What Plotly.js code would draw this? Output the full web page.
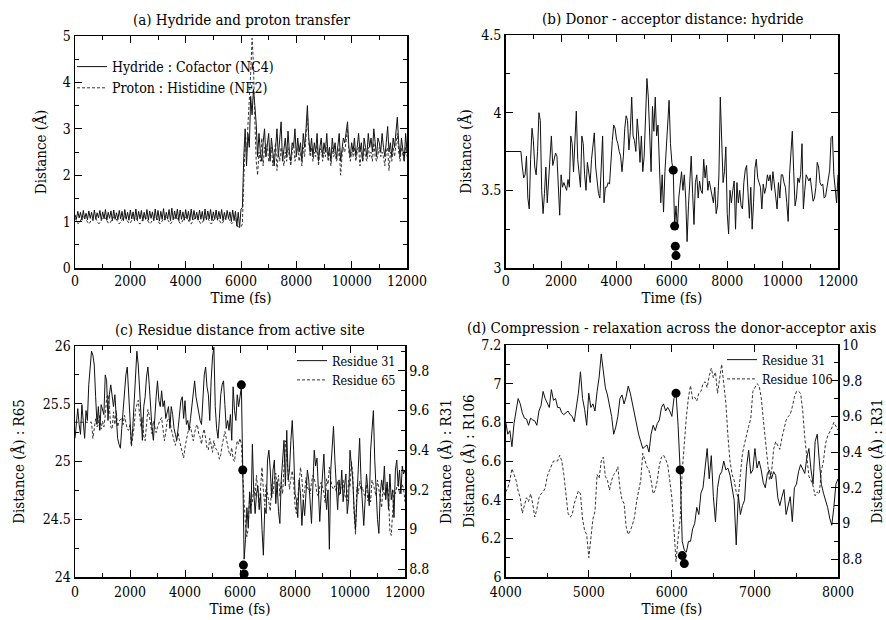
<!DOCTYPE html>
<html><head><meta charset="utf-8">
<script src="https://cdn.plot.ly/plotly-3.0.1.min.js"></script>
<style>html,body{margin:0;padding:0;background:#fff}#chart{width:886px;height:620px}</style>
</head><body><div id="chart"></div>
<script>
const timeStartA = 0, timeStepA = 50;
const hydrideA = [
1.15,1.05,1.22,1.08,1.2,1.03,1.24,1.06,1.18,1.04,
1.23,1.07,1.2,1.02,1.25,1.05,1.19,1.08,1.24,1.04,
1.21,1.06,1.26,1.03,1.2,1.07,1.23,1.02,1.25,1.05,
1.19,1.04,1.24,1.06,1.22,1.02,1.26,1.05,1.2,1.03,
1.25,1.06,1.21,1.02,1.27,1.04,1.22,1.06,1.24,1.01,
1.2,1.05,1.26,1.03,1.23,1.07,1.21,1.02,1.27,1.04,
1.24,1.01,1.22,1.05,1.28,1.03,1.2,1.06,1.26,1.02,
1.29,1.04,1.23,1.06,1.27,1.02,1.25,1.05,1.21,1.03,
1.26,1.06,1.22,1.02,1.27,1.04,1.24,1.06,1.2,1.03,
1.25,1.05,1.22,1.01,1.27,1.04,1.23,1.06,1.26,1.02,
1.21,1.05,1.25,1.03,1.22,1.06,1.26,1.02,1.2,1.04,
1.24,1.06,1.21,1.0,1.25,1.03,1.22,0.9,1.2,0.87,
1.27,1.3,
2.4,3.0,2.2,2.9,2.6,3.7,3.3,3.85,3.5,3.1,
2.4,2.9,2.5,2.3,2.7,3.0,2.4,2.6,2.9,2.3,
2.8,2.5,2.2,2.6,3.0,2.4,2.7,3.15,2.3,2.6,
2.8,2.4,2.95,2.5,2.3,2.7,2.6,3.0,2.4,2.8,
2.5,2.7,2.3,2.9,2.6,3.0,3.5,2.8,2.5,2.8,
2.4,2.7,2.5,2.9,2.3,2.6,2.8,2.4,2.7,2.5,
2.9,2.4,2.6,2.3,2.8,2.5,2.7,2.35,2.6,2.9,
2.3,2.6,2.8,2.7,3.0,3.15,2.6,2.4,2.7,2.5,
2.8,2.4,2.6,2.9,2.5,2.7,2.3,2.8,2.6,2.4,
2.9,2.6,2.8,2.5,3.0,2.6,2.4,2.8,2.7,2.5,
2.9,2.6,2.4,2.7,3.05,2.5,2.7,2.4,2.8,2.6,
2.9,3.25,2.7,2.4,2.8,2.5,2.3,2.9,2.5
];
const protonA = [
1.08,1.02,0.96,0.97,1.03,1.08,1.1,1.09,1.04,0.98,
0.95,0.99,1.05,1.09,1.1,1.07,1.01,0.96,0.97,1.03,
1.08,1.1,1.08,1.02,0.97,0.96,1.01,1.07,1.1,1.09,
1.04,0.98,0.95,0.99,1.05,1.09,1.11,1.07,1.01,0.96,
0.97,1.03,1.08,1.1,1.09,1.03,0.97,0.95,1.0,1.06,
1.1,1.1,1.05,0.99,0.95,0.98,1.04,1.09,1.11,1.08,
1.02,0.96,0.96,1.02,1.07,1.1,1.09,1.04,0.98,0.95,
0.99,1.05,1.09,1.11,1.07,1.01,0.96,0.97,1.03,1.08,
1.1,1.08,1.02,0.97,0.95,1.0,1.06,1.1,1.1,1.05,
0.99,0.95,0.98,1.04,1.09,1.11,1.08,1.02,0.96,0.96,
1.02,1.07,1.1,1.09,1.04,0.98,0.95,0.99,1.05,1.09,
1.1,1.07,1.01,0.96,0.97,1.03,1.08,0.95,0.86,0.92,
0.88,0.95,
2.2,2.8,2.5,3.0,3.6,4.2,4.95,4.4,3.2,2.3,
2.0,2.5,2.3,2.8,2.2,2.6,2.4,2.7,2.3,2.5,
2.6,2.2,2.4,2.7,2.1,2.5,2.3,2.6,2.4,2.2,
2.5,2.3,2.6,2.4,2.2,2.5,2.7,2.3,2.5,2.6,
2.3,2.5,2.2,2.6,2.4,2.8,3.3,2.7,2.4,2.6,
2.3,2.5,2.4,2.7,2.2,2.5,2.6,2.3,2.5,2.4,
2.6,2.3,2.5,2.2,2.6,2.4,2.5,2.3,2.4,2.6,
2.0,2.4,2.6,2.5,2.8,3.0,2.5,2.3,2.5,2.4,
2.6,2.3,2.5,2.6,2.2,2.5,2.3,2.6,2.4,2.3,
2.6,2.4,2.5,2.3,2.7,2.4,2.3,2.5,2.6,2.4,
2.5,2.4,2.2,2.5,2.6,2.1,2.5,2.3,2.6,2.4,
2.6,2.9,2.5,2.3,2.6,2.4,2.3,2.6,2.4
];
const timeStartB = 0, timeStepB = 50;
const donorAcceptorB = [
3.75,3.75,3.75,3.75,3.75,3.75,3.75,3.75,3.75,3.75,
3.75,3.75,3.65,3.58,3.6,3.72,3.45,3.38,3.7,3.9,
3.82,3.65,3.6,3.75,4.0,3.95,3.5,3.35,3.48,3.65,
3.42,3.58,3.72,3.85,3.66,3.7,3.74,3.72,3.5,3.34,
3.6,3.52,3.55,3.52,3.5,3.57,3.52,3.85,3.8,3.62,
3.85,4.01,3.7,3.6,3.52,3.85,3.8,3.6,3.5,3.68,
3.6,3.55,3.7,3.78,3.87,3.65,3.58,3.48,3.45,3.7,
3.85,3.42,3.52,3.52,3.55,3.54,3.7,3.82,3.92,3.9,
3.83,3.8,3.75,3.72,3.62,3.72,3.9,3.98,3.95,3.76,
3.88,4.1,3.85,3.82,3.75,3.96,3.85,3.68,3.85,3.62,
3.72,4.05,4.22,4.1,3.85,3.62,4.04,3.88,4.1,3.85,
3.92,3.6,3.42,3.6,3.36,3.62,3.8,3.95,4.08,3.8,
3.68,3.63,3.27,3.4,3.25,3.45,3.54,3.62,3.5,3.6,
3.45,3.17,3.4,3.6,3.72,3.48,3.28,3.55,3.6,3.45,
3.56,3.5,3.48,3.7,3.58,3.66,3.5,3.56,3.52,3.48,
3.42,3.52,3.35,3.4,3.6,4.1,3.8,3.55,3.62,3.78,
3.35,3.22,3.5,3.42,3.5,3.56,3.25,3.55,3.42,3.5,
3.4,3.38,3.55,3.63,3.66,3.45,3.32,3.52,3.25,3.42,
3.64,3.7,3.58,3.55,3.52,3.38,3.54,3.48,3.52,3.6,
3.56,3.6,3.5,3.62,3.55,3.45,3.38,3.55,3.45,3.6,
3.6,3.55,3.52,3.42,3.3,3.6,3.76,3.88,3.62,3.4,
3.45,3.58,3.55,3.6,3.8,3.38,3.5,3.6,3.58,3.56,
3.58,3.52,3.43,3.45,3.52,3.68,3.65,3.55,3.53,3.54,
3.45,3.46,3.52,3.56,3.63,3.84,3.85,3.6,3.5,3.42,
3.6
];
const markerTimes = [6050, 6100, 6125, 6150];
const markerDonorAcceptor = [3.63, 3.27, 3.14, 3.08];
const markerR31 = [9.73, 9.30, 8.82, 8.775];
const timeStartC = 0, timeStepC = 50;
const residue31C = [
9.46,9.55,9.61,9.53,9.48,9.63,9.53,9.46,9.6,9.55,
9.73,9.83,9.9,9.88,9.83,9.67,9.53,9.62,9.5,9.63,
9.6,9.58,9.78,9.75,9.55,9.68,9.73,9.67,9.62,9.68,
9.55,9.46,9.43,9.41,9.51,9.6,9.72,9.78,9.82,9.68,
9.55,9.43,9.51,9.65,9.82,9.9,9.83,9.7,9.55,9.45,
9.62,9.67,9.77,9.82,9.73,9.6,9.51,9.45,9.6,9.67,
9.75,9.65,9.62,9.7,9.62,9.65,9.56,9.6,9.62,9.51,
9.62,9.58,9.51,9.48,9.45,9.51,9.6,9.65,9.67,9.56,
9.65,9.53,9.55,9.5,9.56,9.63,9.7,9.75,9.67,9.63,
9.58,9.55,9.53,9.65,9.78,9.82,9.72,9.68,9.55,9.75,
9.87,9.92,9.62,9.51,9.46,9.56,9.68,9.73,9.75,9.63,
9.51,9.55,9.5,9.58,9.45,9.72,9.6,9.55,9.68,9.62,
9.66,9.72,9.3,8.85,8.95,9.11,9.01,9.19,9.08,9.43,
9.19,9.08,9.18,9.22,9.1,9.18,9.0,8.87,9.11,9.08,
9.35,9.4,9.3,9.16,9.3,9.35,9.13,9.24,9.09,9.03,
9.25,9.35,9.45,9.22,9.5,9.25,9.3,9.45,9.55,9.4,
9.18,9.15,9.06,9.25,9.18,9.02,9.15,9.07,9.2,9.3,
9.25,9.11,9.03,9.22,9.4,9.32,9.36,9.2,9.04,9.17,
9.28,9.38,9.2,9.1,9.2,8.9,9.3,9.45,9.52,9.35,
9.2,9.1,9.25,9.18,9.3,9.14,9.22,9.28,9.08,9.15,
9.4,9.32,9.25,9.1,9.0,9.15,9.3,9.46,9.25,9.12,
9.02,9.15,9.28,9.2,9.12,9.4,9.5,9.6,9.35,9.15,
9.05,8.98,9.18,9.25,9.2,9.32,9.15,9.24,9.1,9.28,
9.15,9.2,9.06,9.3,9.35,9.22,9.3,9.18,9.32,9.28,
9.3
];
const residue65C = [
25.34,25.34,25.34,25.34,25.34,25.34,25.34,25.34,25.34,25.34,
25.34,25.34,25.34,25.2,25.27,25.37,25.3,25.32,25.4,25.28,
25.35,25.3,25.4,25.55,25.58,25.47,25.3,25.28,25.43,25.32,
25.44,25.3,25.35,25.36,25.38,25.32,25.4,25.33,25.28,25.27,
25.32,25.13,25.2,25.3,25.45,25.5,25.53,25.4,25.3,25.38,
25.22,25.18,25.35,25.45,25.4,25.32,25.24,25.35,25.3,25.25,
25.3,25.34,25.36,25.38,25.3,25.18,25.25,25.35,25.37,25.36,
25.28,25.22,25.18,25.14,25.2,25.25,25.18,25.13,25.08,25.03,
25.12,25.2,25.25,25.28,25.3,25.24,25.18,25.25,25.3,25.32,
25.24,25.21,25.15,25.24,25.28,25.2,25.12,25.1,25.2,25.15,
25.08,25.18,25.12,25.1,25.08,25.02,25.06,25.14,25.2,25.26,
25.2,25.13,25.08,25.05,25.12,25.02,25.0,25.1,25.18,25.15,
25.2,25.15,24.85,24.65,24.45,24.35,24.42,24.72,24.62,24.65,
24.78,24.7,24.88,24.72,24.6,24.78,24.95,24.75,24.62,24.8,
24.72,24.62,24.57,24.8,24.72,24.85,24.9,24.78,24.88,24.7,
24.82,24.72,24.95,25.18,25.05,24.85,24.76,24.85,24.92,24.82,
24.62,24.55,24.7,24.88,24.95,24.85,24.68,24.74,24.86,24.78,
24.75,24.72,24.82,24.88,24.85,24.8,24.72,24.7,24.78,24.82,
24.78,24.73,24.64,24.85,24.8,24.95,24.84,24.78,24.76,24.79,
24.74,24.83,24.7,24.76,24.8,24.84,24.72,24.68,24.66,24.84,
24.78,25.0,24.9,24.55,24.37,24.78,24.72,24.83,24.75,24.78,
24.72,24.7,24.8,24.66,24.72,24.65,24.84,24.8,24.76,24.7,
24.84,24.75,24.68,24.6,24.78,24.7,24.76,24.8,24.72,24.4,
24.36,24.6,24.75,24.72,24.78,24.8,24.72,24.78,24.8,24.76,
24.65
];
const timeStartD = 4000, timeStepD = 25;
const residue31D = [
9.57,9.5,9.52,9.43,9.56,9.63,9.7,9.67,9.62,9.59,
9.585,9.55,9.59,9.58,9.575,9.55,9.63,9.66,9.74,9.7,
9.67,9.65,9.75,9.69,9.7,9.65,9.65,9.62,9.61,9.62,
9.63,9.61,9.6,9.57,9.65,9.73,9.85,9.7,9.64,9.55,
9.73,9.65,9.67,9.63,9.74,9.82,9.95,9.85,9.76,9.72,
9.65,9.6,9.5,9.54,9.6,9.7,9.72,9.67,9.71,9.77,
9.73,9.67,9.62,9.55,9.5,9.46,9.42,9.43,9.44,9.4,
9.5,9.55,9.52,9.56,9.58,9.65,9.67,9.63,9.65,9.63,
9.6,9.7,9.73,9.55,9.3,8.9,8.85,8.84,8.9,8.9,
8.97,9.0,9.09,9.05,9.17,9.2,9.31,9.42,9.25,9.38,
9.15,9.01,9.2,9.27,9.29,9.35,9.3,9.31,9.27,9.2,
9.13,8.88,9.16,9.05,9.1,9.13,9.32,9.41,9.28,9.3,
9.42,9.31,9.35,9.3,9.23,9.2,9.28,9.3,9.25,9.29,
9.27,9.145,9.1,9.15,9.19,9.05,9.1,9.15,9.01,9.2,
9.22,9.29,9.33,9.3,9.28,9.37,9.42,9.3,9.22,9.46,
9.5,9.35,9.22,9.17,9.13,9.09,9.03,8.99,9.09,9.22,
9.25
];
const residue106D = [
6.44,6.46,6.5,6.56,6.53,6.5,6.445,6.41,6.33,6.37,
6.41,6.39,6.43,6.38,6.31,6.35,6.41,6.43,6.44,6.46,
6.52,6.55,6.58,6.6,6.6,6.6,6.63,6.6,6.53,6.44,
6.33,6.31,6.32,6.38,6.41,6.445,6.43,6.3,6.24,6.22,
6.1,6.2,6.3,6.34,6.53,6.51,6.6,6.62,6.52,6.5,
6.45,6.5,6.53,6.54,6.57,6.46,6.4,6.38,6.26,6.22,
6.24,6.27,6.31,6.39,6.45,6.5,6.64,6.6,6.57,6.55,
6.5,6.43,6.45,6.5,6.58,6.62,6.63,6.61,6.58,6.5,
6.41,6.25,6.08,6.2,6.3,6.55,6.71,6.83,6.93,6.99,
6.92,6.93,6.91,6.95,6.96,7.0,7.01,6.98,7.04,7.08,
7.03,7.06,6.95,7.03,7.1,7.0,6.9,6.73,6.6,6.53,
6.5,6.44,6.41,6.53,6.64,6.69,6.74,6.78,6.82,6.96,
6.98,7.0,6.99,6.93,6.82,6.7,6.6,6.5,6.54,6.66,
6.7,6.68,6.66,6.72,6.77,6.81,6.83,6.84,6.88,6.93,
6.96,6.96,6.95,6.86,6.72,6.6,6.52,6.5,6.47,6.42,
6.44,6.43,6.55,6.6,6.69,6.73,6.75,6.77,6.8,6.78,
6.76
];
const panelTitles = [
  '(a) Hydride and proton transfer',
  '(b) Donor - acceptor distance: hydride',
  '(c) Residue distance from active site',
  '(d) Compression - relaxation across the donor-acceptor axis'
];
const seriesNames = {
  hydride: 'Hydride : Cofactor (NC4)', proton: 'Proton : Histidine (NE2)',
  r31: 'Residue 31', r65: 'Residue 65', r106: 'Residue 106'
};

const FONT = '"DejaVu Serif Condensed", "DejaVu Serif", serif';
const INK = '#000';
const SOLID = {color: '#111', width: 1};
const DASHED = {color: '#333', width: 1, dash: '3px,2px'};
const DOT = {color: '#000', size: 9};
const TICK_SIZE = 14, TITLE_SIZE = 15, LEGEND_A_SIZE = 14, LEGEND_CD_SIZE = 12.5;

function ax(o) {
  return Object.assign({
    showline: true, linecolor: INK, linewidth: 1.5,
    ticks: 'inside', ticklen: 7, tickwidth: 1, tickcolor: INK,
    showgrid: false, zeroline: false, automargin: false,
    tickfont: {family: FONT, size: TICK_SIZE, color: INK}
  }, o);
}
function ttl(text, standoff) {
  return {text: text, standoff: standoff, font: {family: FONT, size: TITLE_SIZE, color: INK}};
}
function minor(d) { return {dtick: d, ticks: 'inside', ticklen: 4, tickcolor: INK, showgrid: false}; }

const traces = [
  {x0: timeStartA, dx: timeStepA, y: hydrideA, type: 'scatter', mode: 'lines', line: SOLID,
   name: seriesNames.hydride, xaxis: 'x', yaxis: 'y', legend: 'legend'},
  {x0: timeStartA, dx: timeStepA, y: protonA, type: 'scatter', mode: 'lines', line: DASHED,
   name: seriesNames.proton, xaxis: 'x', yaxis: 'y', legend: 'legend'},
  {x0: timeStartB, dx: timeStepB, y: donorAcceptorB, type: 'scatter', mode: 'lines', line: SOLID,
   showlegend: false, xaxis: 'x2', yaxis: 'y2'},
  {x: markerTimes, y: markerDonorAcceptor, type: 'scatter', mode: 'markers', marker: DOT,
   showlegend: false, xaxis: 'x2', yaxis: 'y2', cliponaxis: false},
  {x0: timeStartC, dx: timeStepC, y: residue31C, type: 'scatter', mode: 'lines', line: SOLID,
   name: seriesNames.r31, xaxis: 'x3', yaxis: 'y4', legend: 'legend2'},
  {x0: timeStartC, dx: timeStepC, y: residue65C, type: 'scatter', mode: 'lines', line: DASHED,
   name: seriesNames.r65, xaxis: 'x3', yaxis: 'y3', legend: 'legend2'},
  {x: markerTimes, y: markerR31, type: 'scatter', mode: 'markers', marker: DOT,
   showlegend: false, xaxis: 'x3', yaxis: 'y4', cliponaxis: false},
  {x0: timeStartD, dx: timeStepD, y: residue31D, type: 'scatter', mode: 'lines', line: SOLID,
   name: seriesNames.r31, xaxis: 'x4', yaxis: 'y6', legend: 'legend3'},
  {x0: timeStartD, dx: timeStepD, y: residue106D, type: 'scatter', mode: 'lines', line: DASHED,
   name: seriesNames.r106, xaxis: 'x4', yaxis: 'y5', legend: 'legend3'},
  {x: markerTimes, y: markerR31, type: 'scatter', mode: 'markers', marker: DOT,
   showlegend: false, xaxis: 'x4', yaxis: 'y6', cliponaxis: false}
];

const W = 886, H = 620;
const dx = (a, b) => [a / W, b / W];
const dy = (top, bot) => [1 - bot / H, 1 - top / H];
const legendBase = {bgcolor: 'rgba(0,0,0,0)', borderwidth: 0, xanchor: 'left', yanchor: 'top',
  itemwidth: 30, tracegroupgap: 0, itemclick: false};

const layout = {
  width: W, height: H, margin: {l: 0, r: 0, t: 0, b: 0},
  paper_bgcolor: '#fff', plot_bgcolor: '#fff',
  font: {family: FONT, color: INK, size: TICK_SIZE},
  xaxis:  ax({domain: dx(75, 407), anchor: 'y', range: [0, 12000], dtick: 2000, tick0: 0, tickformat: 'd',
              minor: minor(1000), mirror: 'ticks', title: ttl('Time (fs)', 4)}),
  yaxis:  ax({domain: dy(36, 268), anchor: 'x', range: [0, 5], dtick: 1, tick0: 0,
              minor: minor(0.5), mirror: 'ticks', title: ttl('Distance (Å)', 12)}),
  xaxis2: ax({domain: dx(505.7, 838), anchor: 'y2', range: [0, 12000], dtick: 2000, tick0: 0, tickformat: 'd',
              minor: minor(1000), mirror: 'ticks', title: ttl('Time (fs)', 4)}),
  yaxis2: ax({domain: dy(35, 268), anchor: 'x2', range: [3, 4.5], dtick: 0.5, tick0: 0,
              minor: minor(0.25), mirror: 'ticks', title: ttl('Distance (Å)', 6)}),
  xaxis3: ax({domain: dx(75, 405), anchor: 'y3', range: [0, 12000], dtick: 2000, tick0: 0, tickformat: 'd',
              ticklabelstandoff: 2, minor: minor(1000), mirror: 'ticks', title: ttl('Time (fs)', 4)}),
  yaxis3: ax({domain: dy(346, 577), anchor: 'x3', range: [24, 26], dtick: 0.5, tick0: 0,
              minor: minor(0.25), title: ttl('Distance (Å) : R65', 14)}),
  yaxis4: ax({anchor: 'x3', overlaying: 'y3', side: 'right', range: [8.76, 9.926], dtick: 0.2, tick0: 0,
              minor: minor(0.1), title: ttl('Distance (Å) : R31', 12)}),
  xaxis4: ax({domain: dx(505.7, 838), anchor: 'y5', range: [4000, 8000], dtick: 1000, tick0: 0, tickformat: 'd',
              ticklabelstandoff: 2, minor: minor(500), mirror: 'ticks', title: ttl('Time (fs)', 4)}),
  yaxis5: ax({domain: dy(345, 577), anchor: 'x4', range: [6, 7.2], dtick: 0.2, tick0: 0,
              minor: minor(0.1), title: ttl('Distance (Å) : R106', 3)}),
  yaxis6: ax({anchor: 'x4', overlaying: 'y5', side: 'right', range: [8.7, 10], dtick: 0.2, tick0: 0,
              minor: minor(0.1), title: ttl('Distance (Å) : R31', 10)}),
  legend:  Object.assign({}, legendBase, {x: 72 / W, y: 1 - 51 / H, font: {family: FONT, size: LEGEND_A_SIZE, color: INK}}),
  legend2: Object.assign({}, legendBase, {x: 292 / W, y: 1 - 346 / H, font: {family: FONT, size: LEGEND_CD_SIZE, color: INK}}),
  legend3: Object.assign({}, legendBase, {x: 722 / W, y: 1 - 345 / H, font: {family: FONT, size: LEGEND_CD_SIZE, color: INK}}),
  annotations: [
    {text: panelTitles[0], x: 241 / W, y: 1 - 20 / H},
    {text: panelTitles[1], x: 673 / W, y: 1 - 19 / H},
    {text: panelTitles[2], x: 240 / W, y: 1 - 330 / H},
    {text: panelTitles[3], x: 671 / W, y: 1 - 328 / H}
  ].map(a => Object.assign({xref: 'paper', yref: 'paper', showarrow: false, xanchor: 'center', yanchor: 'middle',
                             font: {family: FONT, size: TITLE_SIZE, color: INK}}, a)),
  showlegend: true
};

Plotly.newPlot('chart', traces, layout, {displayModeBar: false, staticPlot: true});
</script>
</body></html>
